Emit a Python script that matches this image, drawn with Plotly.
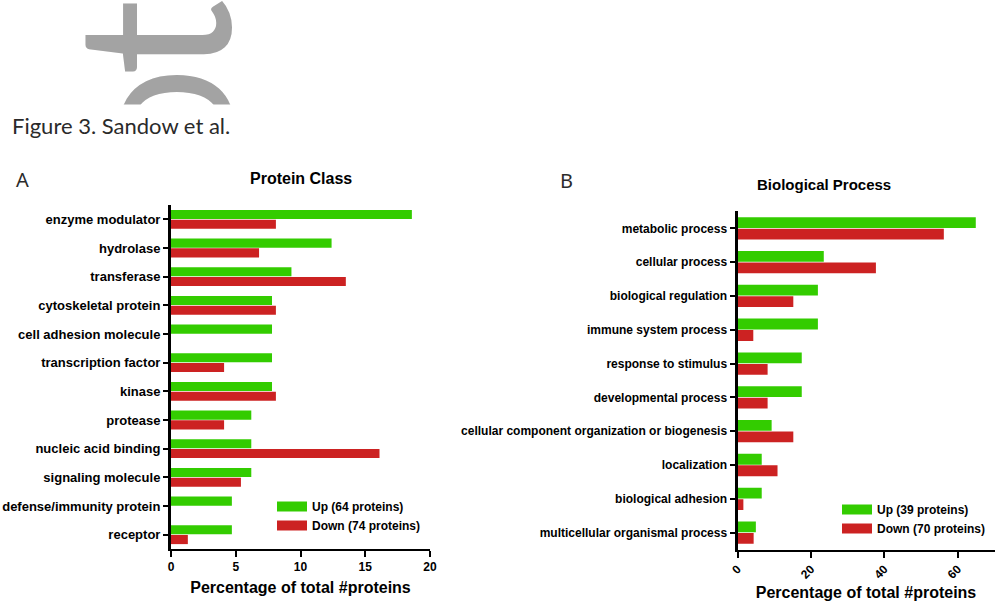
import plotly.graph_objects as go

# ---- Panel A: protein class ----
class_labels = [
    "enzyme modulator", "hydrolase", "transferase", "cytoskeletal protein",
    "cell adhesion molecule", "transcription factor", "kinase", "protease",
    "nucleic acid binding", "signaling molecule", "defense/immunity protein",
    "receptor",
]
class_up = [18.6, 12.4, 9.3, 7.8, 7.8, 7.8, 7.8, 6.2, 6.2, 6.2, 4.7, 4.7]
class_down = [8.1, 6.8, 13.5, 8.1, 0.0, 4.1, 8.1, 4.1, 16.1, 5.4, 0.0, 1.3]
class_ticks = [0, 5, 10, 15, 20]

# ---- Panel B: biological process ----
process_labels = [
    "metabolic process", "cellular process", "biological regulation",
    "immune system process", "response to stimulus", "developmental process",
    "cellular component organization or biogenesis", "localization",
    "biological adhesion", "multicellular organismal process",
]
process_up = [64.9, 23.5, 21.9, 21.9, 17.5, 17.5, 9.3, 6.6, 6.6, 5.0]
process_down = [56.2, 37.7, 15.2, 4.3, 8.2, 8.2, 15.2, 10.9, 1.6, 4.4]
process_ticks = [0, 20, 40, 60]

legend_a = ["Up (64 proteins)", "Down (74 proteins)"]
legend_b = ["Up (39 proteins)", "Down (70 proteins)"]

GREEN = "#33cc00"
RED = "#cc2222"
W, H = 997, 601
FONT = "Liberation Sans"


def px(x):
    return x / W


def py(y):
    return 1 - y / H


fig = go.Figure()

# bars
for vals, name, color in ((class_up, legend_a[0], GREEN), (class_down, legend_a[1], RED)):
    fig.add_trace(go.Bar(y=class_labels, x=vals, orientation="h", name=name,
                         marker=dict(color=color, line=dict(width=0)),
                         xaxis="x", yaxis="y", showlegend=False))
for vals, name, color in ((process_up, legend_b[0], GREEN), (process_down, legend_b[1], RED)):
    fig.add_trace(go.Bar(y=process_labels, x=vals, orientation="h", name=name,
                         marker=dict(color=color, line=dict(width=0)),
                         xaxis="x2", yaxis="y2", showlegend=False))

# legend swatches (wide rectangular keys)
for name, color in zip(legend_a, (GREEN, RED)):
    fig.add_trace(go.Scatter(x=[None], y=[None], mode="lines", name=name,
                             line=dict(color=color, width=12),
                             xaxis="x", yaxis="y", legend="legend"))
for name, color in zip(legend_b, (GREEN, RED)):
    fig.add_trace(go.Scatter(x=[None], y=[None], mode="lines", name=name,
                             line=dict(color=color, width=12),
                             xaxis="x2", yaxis="y2", legend="legend2"))

axis_common = dict(
    showline=True, linecolor="black", showgrid=False, zeroline=False,
    ticks="outside", tickcolor="black", tickwidth=2, automargin=False,
)

fig.update_layout(
    width=W, height=H,
    margin=dict(l=0, r=0, t=0, b=0),
    paper_bgcolor="white", plot_bgcolor="white",
    barmode="group", bargap=0.32, bargroupgap=0.06,
    xaxis=dict(**axis_common, domain=[px(171), px(430)], range=[0, 20],
               tickvals=class_ticks, linewidth=2, anchor="y", ticklen=6,
               tickfont=dict(family=FONT, size=12, color="black", weight="bold"),
               title=dict(text="Percentage of total #proteins", standoff=8,
                          font=dict(family=FONT, size=16, color="black", weight="bold"))),
    yaxis=dict(**axis_common, domain=[py(549), py(205)], autorange="reversed",
               linewidth=3, anchor="x", ticklen=5,
               tickfont=dict(family=FONT, size=13, color="black", weight="bold")),
    xaxis2=dict(**axis_common, domain=[px(737.5), px(994.5)], range=[0, 70],
                tickvals=process_ticks, linewidth=2, anchor="y2", tickangle=-45, ticklen=6,
                tickfont=dict(family=FONT, size=12, color="black", weight="bold"),
                title=dict(text="Percentage of total #proteins", standoff=8,
                           font=dict(family=FONT, size=16, color="black", weight="bold"))),
    yaxis2=dict(**axis_common, domain=[py(549.5), py(211.4)], autorange="reversed",
                linewidth=3, anchor="x2", ticklen=5,
                tickfont=dict(family=FONT, size=12, color="black", weight="bold")),
    legend=dict(x=px(272), y=py(492), xanchor="left", yanchor="top",
                bgcolor="rgba(0,0,0,0)", tracegroupgap=0,
                font=dict(family=FONT, size=12, color="black", weight="bold")),
    legend2=dict(x=px(837), y=py(495), xanchor="left", yanchor="top",
                 bgcolor="rgba(0,0,0,0)", tracegroupgap=0,
                 font=dict(family=FONT, size=12, color="black", weight="bold")),
)

annotations = [
    # large grey rotated lettering at the top of the page, one glyph at a time
    dict(text="t", textangle=-90, x=px(147), y=py(38), xanchor="center", yanchor="middle",
         font=dict(family="Lato", size=215, color="#a3a3a3")),
    dict(text="o", textangle=-90, x=px(152), y=py(126), xanchor="center", yanchor="middle",
         font=dict(family="Open Sans", size=205, color="#a3a3a3")),
    # blank panel that trims the lettering above the caption
    dict(text=" ", x=px(150), y=py(153), xanchor="center", yanchor="middle",
         width=270, height=97, bgcolor="white", borderpad=0),
    dict(text="Figure 3. Sandow et al.", x=px(10), y=py(125), xanchor="left", yanchor="middle",
         font=dict(family="Lato", size=22, color="#2a2a2a")),
    dict(text="A", x=px(22.5), y=py(180), xanchor="center", yanchor="middle",
         font=dict(family="Noto Sans", size=20, color="#2b2b2b")),
    dict(text="B", x=px(566), y=py(180.5), xanchor="center", yanchor="middle",
         font=dict(family="Noto Sans", size=20, color="#2b2b2b")),
    dict(text="Protein Class", x=px(300.5), y=py(179), xanchor="center", yanchor="middle",
         font=dict(family=FONT, size=16, color="black", weight="bold")),
    dict(text="Biological Process", x=px(823.5), y=py(185), xanchor="center", yanchor="middle",
         font=dict(family=FONT, size=15, color="black", weight="bold")),
]
for a in annotations:
    a.setdefault("xref", "paper")
    a.setdefault("yref", "paper")
    a.setdefault("showarrow", False)
fig.update_layout(annotations=annotations)

fig.write_html("out.html")
